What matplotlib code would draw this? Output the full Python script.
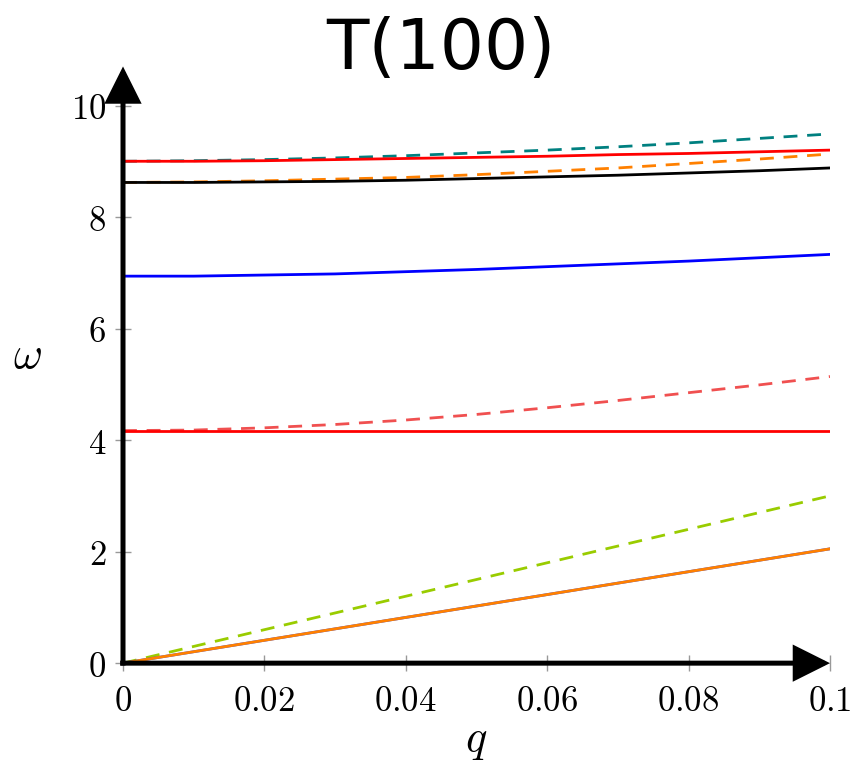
import matplotlib
matplotlib.use("Agg")
import matplotlib.pyplot as plt
import numpy as np

# wavevector samples along T(100)
q = [0.0, 0.01, 0.02, 0.03, 0.04, 0.05, 0.06, 0.07, 0.08, 0.09, 0.1]

# branches
acoustic_solid = [0.0, 0.205, 0.41, 0.615, 0.82, 1.025, 1.23, 1.435, 1.64, 1.845, 2.05]
acoustic_dashed = [0.0, 0.30, 0.60, 0.90, 1.20, 1.50, 1.80, 2.10, 2.40, 2.70, 3.00]
opt1_solid = [4.17, 4.17, 4.17, 4.17, 4.17, 4.17, 4.17, 4.17, 4.17, 4.17, 4.17]
opt1_dashed = [4.17, 4.18, 4.22, 4.28, 4.36, 4.46, 4.58, 4.71, 4.85, 4.99, 5.14]
opt2_blue = [6.94, 6.94, 6.96, 6.98, 7.02, 7.06, 7.11, 7.16, 7.21, 7.27, 7.33]
opt3_black = [8.62, 8.62, 8.63, 8.64, 8.66, 8.69, 8.72, 8.75, 8.79, 8.83, 8.88]
opt3_dashed = [8.62, 8.63, 8.65, 8.68, 8.71, 8.76, 8.82, 8.88, 8.96, 9.04, 9.13]
opt4_red = [9.0, 9.0, 9.01, 9.03, 9.05, 9.07, 9.09, 9.12, 9.14, 9.17, 9.2]
opt4_dashed = [9.0, 9.01, 9.03, 9.06, 9.10, 9.15, 9.20, 9.26, 9.33, 9.41, 9.49]

x_ticks = [0, 0.02, 0.04, 0.06, 0.08, 0.1]
x_labels = ["0", "0.02", "0.04", "0.06", "0.08", "0.1"]
y_ticks = [0, 2, 4, 6, 8, 10]
y_labels = ["0", "2", "4", "6", "8", "10"]

plt.rcParams['mathtext.fontset'] = 'cm'

fig = plt.figure(figsize=(8.56, 7.64), dpi=100)
ax = fig.add_axes([0.1437, 0.132, 0.8259, 0.781])

lw = 2.0
dash = (5, 3.5)
ax.plot(q, acoustic_dashed, color='#99cc00', lw=lw, dashes=dash)
ax.plot(q, acoustic_solid, color='#3050ff', lw=lw)
ax.plot(q, acoustic_solid, color='#ff8000', lw=lw)
ax.plot(q, opt1_dashed, color='#f05050', lw=lw, dashes=dash)
ax.plot(q, opt1_solid, color='#ff0000', lw=lw)
ax.plot(q, opt2_blue, color='#0000ff', lw=lw)
ax.plot(q, opt3_dashed, color='#ff8000', lw=lw, dashes=dash)
ax.plot(q, opt3_black, color='black', lw=lw)
ax.plot(q, opt4_dashed, color='#008080', lw=lw, dashes=dash)
ax.plot(q, opt4_red, color='#ff0000', lw=lw)

ax.set_xlim(0, 0.1)
ax.set_ylim(0, 10.7)

for s in ax.spines.values():
    s.set_visible(False)

# axis arrows
arrow = dict(arrowstyle='-|>,head_length=1.0,head_width=0.5', lw=3.6,
             color='black', mutation_scale=21, shrinkA=0, shrinkB=0,
             joinstyle='miter', capstyle='butt')
ax.annotate('', xy=(1.0, 0), xytext=(-0.004, 0), xycoords='axes fraction',
            arrowprops=arrow, annotation_clip=False)
ax.annotate('', xy=(0, 1.0), xytext=(0, -0.004), xycoords='axes fraction',
            arrowprops=arrow, annotation_clip=False)

ax.set_xticks(x_ticks)
ax.set_xticklabels(['$' + t + '$' for t in x_labels])
ax.set_yticks(y_ticks)
ax.set_yticklabels(['$' + t + '$' for t in y_labels])
ax.tick_params(direction='inout', length=12, width=1, color='#999999',
               labelsize=25)
ax.tick_params(axis='x', pad=9)
ax.tick_params(axis='y', pad=6)

ax.set_xlabel('$q$', fontsize=32)
ax.xaxis.set_label_coords(0.5, -0.094)
ax.set_ylabel(r'$\omega$', fontsize=32, rotation=0)
ax.yaxis.set_label_coords(-0.135, 0.48)

fig.text(0.515, 0.935, 'T(100)', ha='center', va='center', fontsize=50,
         family='DejaVu Sans')

fig.savefig('out.png', dpi=100)
